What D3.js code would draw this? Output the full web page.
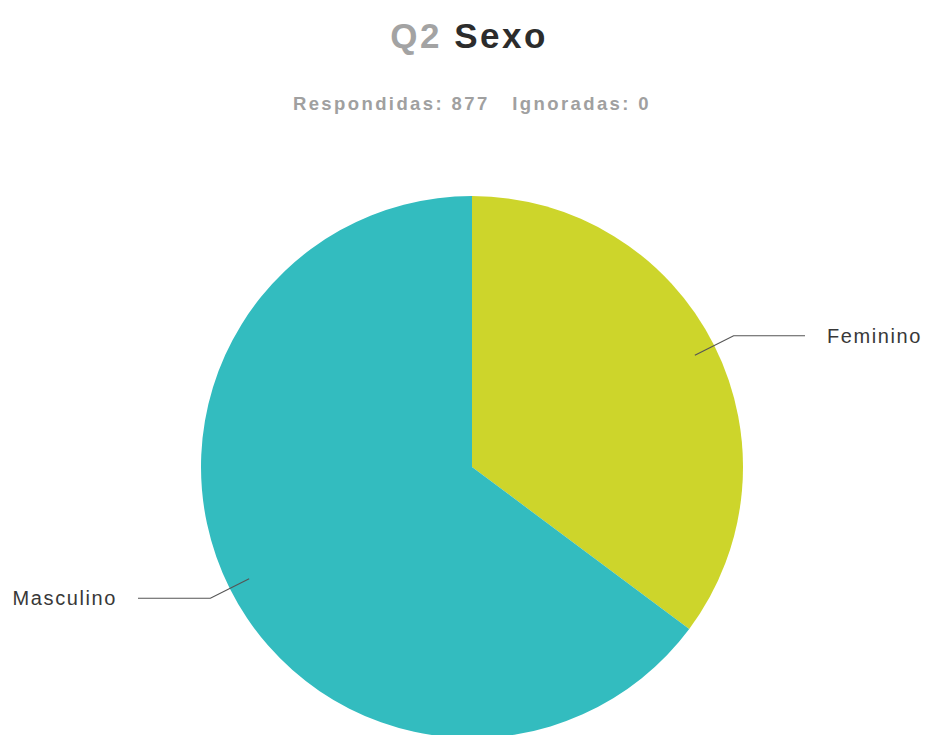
<!DOCTYPE html>
<meta charset="utf-8">
<style>
  body { margin: 0; background: #fff; }
  text { font-family: "Liberation Sans", Arial, sans-serif; }
</style>
<svg width="930" height="735"></svg>
<script src="https://d3js.org/d3.v7.min.js"></script>
<script>

// answers for Q2
var categories = ["Feminino", "Masculino"];
var shares = [35.2, 64.8];
var answered = 877;
var skipped = 0;

var width = 930, height = 735;
var cx = 472, cy = 467, radius = 271;
var colors = d3.scaleOrdinal().domain(categories).range(["#cdd52b", "#33bcbf"]);

var svg = d3.select("svg");

// title
var title = svg.append("text")
    .attr("x", 469)
    .attr("y", 48)
    .attr("text-anchor", "middle")
    .style("font-size", "35px")
    .style("font-weight", "bold")
    .style("letter-spacing", "2.5px");
title.append("tspan").attr("fill", "#a3a3a3").text("Q2 ");
title.append("tspan").attr("fill", "#2c2c2c").text("Sexo");

svg.append("text")
    .attr("x", 472)
    .attr("y", 110)
    .attr("text-anchor", "middle")
    .attr("fill", "#a0a0a0")
    .style("font-size", "18.5px")
    .style("font-weight", "bold")
    .style("letter-spacing", "2.4px")
    .attr("xml:space", "preserve")
    .text("Respondidas: " + answered + "   Ignoradas: " + skipped);

var data = categories.map(function (c, i) { return { name: c, value: shares[i] } });

var pie = d3.pie().sort(null).value(function (d) { return d.value });
var arc = d3.arc().innerRadius(0).outerRadius(radius);

var g = svg.append("g").attr("transform", "translate(" + cx + "," + cy + ")");
var arcs = pie(data);

g.selectAll("path")
  .data(arcs)
  .enter().append("path")
    .attr("d", arc)
    .attr("fill", function (d) { return colors(d.data.name) });

// leader lines
function pointAt(a, r) { return [Math.sin(a) * r, -Math.cos(a) * r] }

arcs.forEach(function (d) {
  var mid = (d.startAngle + d.endAngle) / 2;
  var p0 = pointAt(mid, radius * 0.92);
  var p1 = pointAt(mid, radius * 1.08);
  var right = p1[0] > 0;
  var p2 = [right ? 333 : -334, p1[1]];
  g.append("polyline")
    .attr("points", [p0, p1, p2].map(function (p) { return p.join(",") }).join(" "))
    .attr("fill", "none")
    .attr("stroke", "#555")
    .attr("stroke-width", 1.2);
  g.append("text")
    .attr("x", right ? p2[0] + 22 : p2[0] - 21)
    .attr("y", p1[1])
    .attr("dy", "0.35em")
    .attr("text-anchor", right ? "start" : "end")
    .attr("fill", "#383838")
    .style("font-size", "20px")
    .style("letter-spacing", "1.6px")
    .text(d.data.name);
});

</script>
